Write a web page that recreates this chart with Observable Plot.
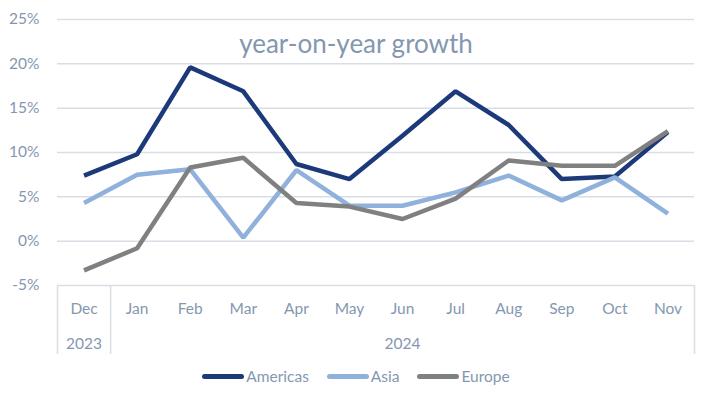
<!DOCTYPE html>
<html>
<head>
<meta charset="utf-8">
<script src="https://cdn.jsdelivr.net/npm/d3@7"></script>
<script src="https://cdn.jsdelivr.net/npm/@observablehq/plot@0.6"></script>
<style>
  html, body { margin: 0; padding: 0; background: #fff; }
  #chart { width: 712px; }
  .legend { display: flex; justify-content: center; align-items: center; height: 28px; margin-top: 0; font-family: Lato, sans-serif; font-size: 15.5px; color: #8497b0; }
  .legend .item { display: flex; align-items: center; margin: 0 9px; }
  .legend .sw { width: 42px; height: 5px; border-radius: 3px; margin-right: 2px; }
</style>
</head>
<body>
<div id="chart"></div>
<script>
const months = ["Dec","Jan","Feb","Mar","Apr","May","Jun","Jul","Aug","Sep","Oct","Nov"];
const years = ["2023","2024"];
const yearFirstIndex = [0, 1];
const yearLastIndex = [0, 11];
const americas = [7.4, 9.8, 19.6, 16.9, 8.7, 7.0, 11.9, 16.9, 13.1, 7.0, 7.3, 12.3];
const asia     = [4.3, 7.5, 8.1, 0.4, 8.0, 4.0, 4.0, 5.5, 7.4, 4.6, 7.2, 3.1];
const europe   = [-3.3, -0.8, 8.3, 9.4, 4.3, 3.9, 2.5, 4.8, 9.1, 8.5, 8.5, 12.4];
const yTicks = [-5, 0, 5, 10, 15, 20, 25];
const seriesNames = ["Americas", "Asia", "Europe"];
const title = "year-on-year growth";

const seriesColors = ["#1c3a7a", "#8fb1dc", "#808080"];
const textColor = "#8497b0";
const gridColor = "#d9dde5";

const seriesValues = [americas, asia, europe];
const rows = seriesNames.flatMap((name, s) =>
  months.map((m, i) => ({series: name, idx: i, month: m, value: seriesValues[s][i]})));
const monthIdx = months.map((m, i) => i);
const dividers = [-0.5, ...yearLastIndex.map(i => i + 0.5)];
const yearRows = years.map((y, k) => ({year: y, mid: (yearFirstIndex[k] + yearLastIndex[k]) / 2}));

const chart = Plot.plot({
  width: 712,
  height: 362,
  marginTop: 19,
  marginBottom: 77,
  marginLeft: 57,
  marginRight: 18,
  style: {fontFamily: "Lato, sans-serif", color: textColor, background: "#fff"},
  x: {domain: [-0.5, months.length - 0.5], label: null},
  y: {domain: [-5, 25], label: null},
  color: {domain: seriesNames, range: seriesColors},
  marks: [
    Plot.gridY(yTicks, {stroke: gridColor, strokeOpacity: 1, strokeWidth: 1.5}),
    Plot.ruleX(dividers, {x: d => d, y1: -5, y2: -5, insetBottom: -69, stroke: gridColor, strokeWidth: 1.5}),
    Plot.axisY(yTicks, {tickSize: 0, tickPadding: 18, tickFormat: d => `${d}%`, fontSize: 15.5, fill: textColor, label: null}),
    Plot.axisX(monthIdx, {tickSize: 0, tickPadding: 17, tickFormat: i => months[i], fontSize: 15.5, fill: textColor, label: null}),
    Plot.text(yearRows, {x: "mid", text: "year", frameAnchor: "bottom", lineAnchor: "top", dy: 52, fontSize: 15.5, fill: textColor}),
    Plot.text([title], {frameAnchor: "top", dx: -20, dy: 15, fontSize: 26, fill: textColor}),
    Plot.line(rows, {x: "idx", y: "value", z: "series", stroke: "series", strokeWidth: 4.5, strokeLinejoin: "miter", strokeLinecap: "butt"})
  ]
});
document.getElementById("chart").appendChild(chart);

const legend = document.createElement("div");
legend.className = "legend";
seriesNames.forEach((name, s) => {
  const item = document.createElement("div");
  item.className = "item";
  const sw = document.createElement("span");
  sw.className = "sw";
  sw.style.background = seriesColors[s];
  const label = document.createElement("span");
  label.textContent = name;
  item.appendChild(sw);
  item.appendChild(label);
  legend.appendChild(item);
});
document.getElementById("chart").appendChild(legend);
</script>
</body>
</html>
